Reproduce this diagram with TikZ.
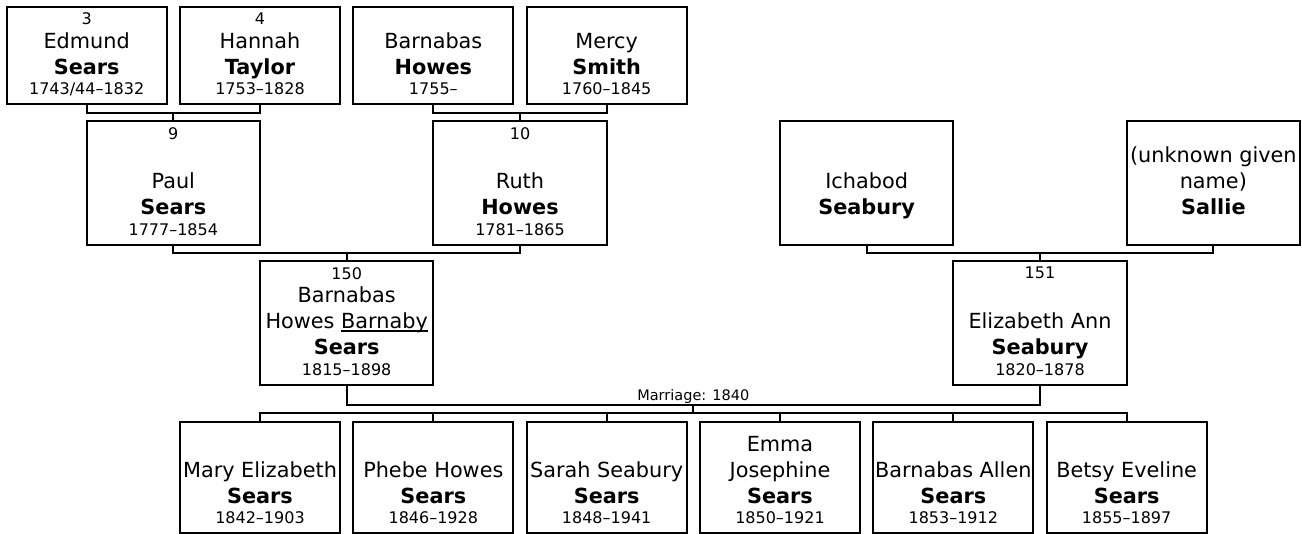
\documentclass[tikz,border=0pt]{standalone}
\usepackage{fontspec}
\setmainfont{DejaVu Sans}
\usepackage{tikz}
\usetikzlibrary{positioning}
\newcommand{\lifespan}[1]{{\fontsize{16}{20}\selectfont #1}}
\newcommand{\callname}[1]{\setbox0\hbox{#1}\rlap{\rule[-2.8pt]{\wd0}{1.3pt}}\box0}
\tikzset{
  person-box/.style={draw=black, line width=2pt, outer sep=0pt, inner xsep=0pt, inner ysep=9.5pt,
    align=center, text depth=0pt, font=\fontsize{20.8}{26}\selectfont},
  person-top/.style={person-box, minimum width=160pt, text height=78.6pt},
  person-mid/.style={person-box, minimum width=173.33pt, text height=105pt},
  person-child/.style={person-box, minimum width=160pt, text height=92.6pt},
  person-num/.style={anchor=north, inner sep=6pt, font=\fontsize{16}{20}\selectfont},
  family-line/.style={draw=black, line width=2pt},
  marriage-label/.style={midway, above, inner sep=1pt, font=\fontsize{14.5}{17}\selectfont}
}

\begin{document}
\begin{tikzpicture}[x=1pt, y=-1pt]
  \useasboundingbox (0,0) rectangle (1302,534);
  % great-grandparents
  \node[person-top, label={[person-num]north:3}] (edmund) at (86.67,55.5)
    {Edmund\\\textbf{Sears}\\[-5.5pt]\lifespan{1743/44–1832}};
  \node[person-top, label={[person-num]north:4}, right=13.33pt of edmund] (hannah)
    {Hannah\\\textbf{Taylor}\\[-5.5pt]\lifespan{1753–1828}};
  \node[person-top, right=13.33pt of hannah] (barnabas)
    {Barnabas\\\textbf{Howes}\\[-5.5pt]\lifespan{1755–}};
  \node[person-top, right=13.33pt of barnabas] (mercy)
    {Mercy\\\textbf{Smith}\\[-5.5pt]\lifespan{1760–1845}};
  % grandparents
  \node[person-mid, label={[person-num]north:9}] (paul) at (173.33,183)
    {Paul\\\textbf{Sears}\\[-5.5pt]\lifespan{1777–1854}};
  \node[person-mid, label={[person-num]north:10}] (ruth) at (520,183)
    {Ruth\\\textbf{Howes}\\[-5.5pt]\lifespan{1781–1865}};
  \node[person-mid] (ichabod) at (866.67,183)
    {Ichabod\\\textbf{Seabury}\\[-5.5pt]\lifespan{}};
  \node[person-mid, right=173.33pt of ichabod] (sallie)
    {(unknown given\\name)\\\textbf{Sallie}\\[-5.5pt]\lifespan{}};
  % parents
  \node[person-mid, label={[person-num]north:150}] (barnaby) at (346.67,323)
    {Barnabas\\Howes \callname{Barnaby}\\\textbf{Sears}\\[-5.5pt]\lifespan{1815–1898}};
  \node[person-mid, label={[person-num]north:151}] (elizabeth) at (1040,323)
    {Elizabeth Ann\\\textbf{Seabury}\\[-5.5pt]\lifespan{1820–1878}};
  % children
  \node[person-child] (mary) at (260,477.5)
    {Mary Elizabeth\\\textbf{Sears}\\[-5.5pt]\lifespan{1842–1903}};
  \node[person-child, right=13.33pt of mary] (phebe)
    {Phebe Howes\\\textbf{Sears}\\[-5.5pt]\lifespan{1846–1928}};
  \node[person-child, right=13.33pt of phebe] (sarah)
    {Sarah Seabury\\\textbf{Sears}\\[-5.5pt]\lifespan{1848–1941}};
  \node[person-child, right=13.33pt of sarah] (emma)
    {Emma\\Josephine\\\textbf{Sears}\\[-5.5pt]\lifespan{1850–1921}};
  \node[person-child, right=13.33pt of emma] (allen)
    {Barnabas Allen\\\textbf{Sears}\\[-5.5pt]\lifespan{1853–1912}};
  \node[person-child, right=13.33pt of allen] (betsy)
    {Betsy Eveline\\\textbf{Sears}\\[-5.5pt]\lifespan{1855–1897}};

  % couples and descent
  \draw[family-line] (edmund.south) -- ++(0,8.4) -| (hannah.south);
  \draw[family-line] (paul.north) -- ++(0,-8.3);
  \draw[family-line] (barnabas.south) -- ++(0,8.4) -| (mercy.south);
  \draw[family-line] (ruth.north) -- ++(0,-8.3);
  \draw[family-line] (paul.south) -- ++(0,8) -| (ruth.south);
  \draw[family-line] (barnaby.north) -- ++(0,-8);
  \draw[family-line] (ichabod.south) -- ++(0,8) -| (sallie.south);
  \draw[family-line] (elizabeth.north) -- ++(0,-8);
  \coordinate (wed-left) at ([yshift=-20.5pt]barnaby.south);
  \draw[family-line] (barnaby.south) -- (wed-left)
    -- node[marriage-label] {Marriage: 1840} coordinate[midway] (wed) (wed-left -| elizabeth.south)
    -- (elizabeth.south);
  \draw[family-line] (wed) -- ++(0,8);
  \draw[family-line] (mary.north) -- ++(0,-8.2) -| (betsy.north);
  \foreach \kid in {phebe,sarah,emma,allen}
    \draw[family-line] (\kid.north) -- ++(0,-8.2);
\end{tikzpicture}
\end{document}
